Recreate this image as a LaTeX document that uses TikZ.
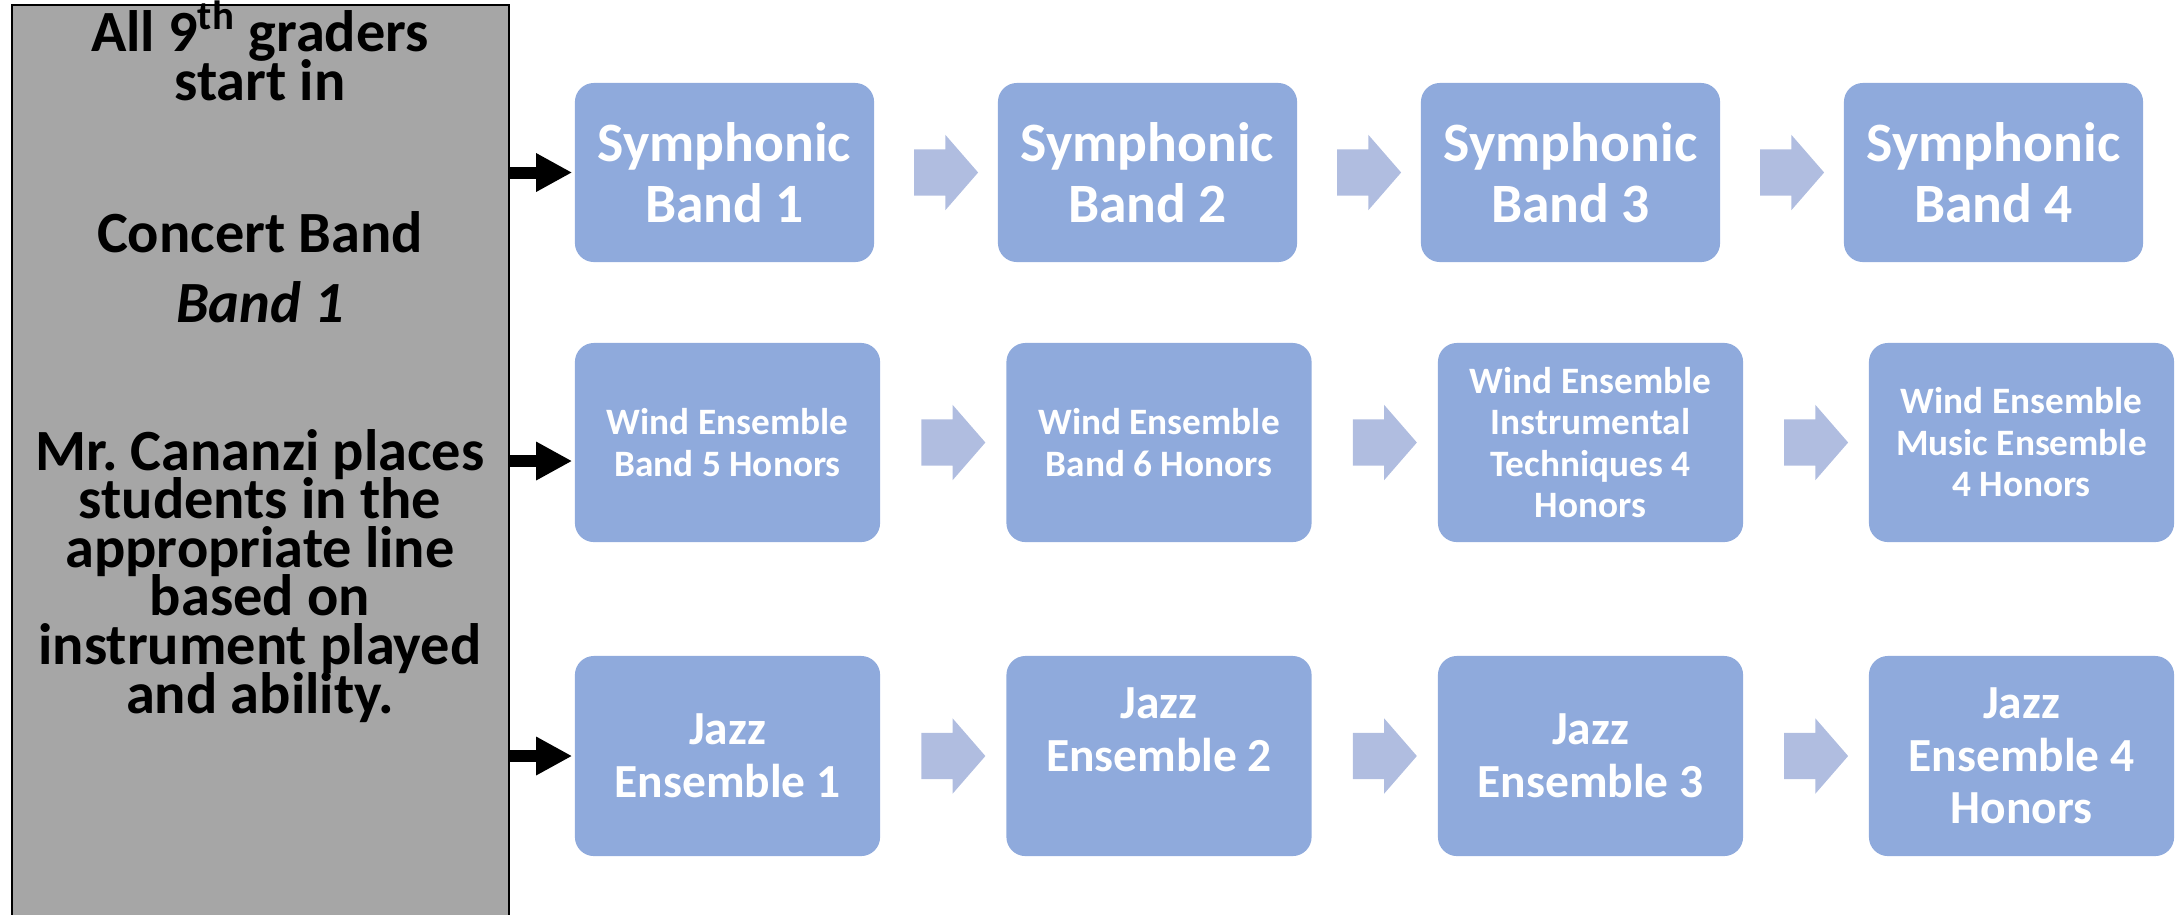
\documentclass[tikz,border=0pt]{standalone}
\usepackage{fontspec}
\setmainfont{Carlito}
\usetikzlibrary{arrows.meta, positioning, calc, shapes.arrows}
\definecolor{startcolor}{RGB}{166,166,166}
\definecolor{coursecolor}{RGB}{143,170,220}
\definecolor{stepcolor}{RGB}{176,189,224}

\begin{document}
\begin{tikzpicture}[
    x=0.01cm, y=-0.01cm,
    startbox/.style={draw=black, line width=0.6pt, fill=startcolor, minimum width=4.96cm, minimum height=9.2cm, inner sep=0pt},
    starttext/.style={anchor=base, align=center, inner sep=0pt, font={\bfseries\fontsize{16.6}{13.8}\selectfont\lineskiplimit-100pt\frenchspacing}},
    course/.style={fill=coursecolor, text=white, rounded corners=1.9mm, align=center, inner sep=0pt},
    symph/.style={course, minimum width=2.99cm, minimum height=1.79cm, font=\bfseries\fontsize{15.8}{17.4}\selectfont},
    wind/.style={course, minimum width=3.05cm, minimum height=1.99cm, font=\bfseries\fontsize{10.6}{11.8}\selectfont},
    jazz/.style={course, minimum width=3.05cm, minimum height=2cm, font=\bfseries\fontsize{13.5}{15}\selectfont},
    stepbox/.style={single arrow, fill=stepcolor, draw=none, inner xsep=0pt, inner ysep=2.25mm, minimum height=0.64cm, single arrow head extend=1.45mm, single arrow tip angle=98},
    feed/.style={-{Triangle[length=3.6mm, width=3.6mm]}, line width=1.2mm}
]
    \useasboundingbox (0,0) rectangle (2176,914);

    % Starting box (multi-line texts sit on their last baseline)
    \node[startbox] (start) at (260.5,465) {};
    \node[starttext] (intro) at (260,100) {All 9\textsuperscript{th} graders\\start in};
    \node[starttext] (concert) at (260,252) {Concert Band};
    \node[starttext, font=\bfseries\itshape\fontsize{16.6}{13.8}\selectfont] (bandone) at (260,322) {Band 1};
    \node[starttext] (placement) at (260,713) {Mr.\ Cananzi places\\students in the\\appropriate line\\based on\\instrument played\\and ability.};

    % Symphonic line
    \node[symph] (sym1) at (724.5,172.5) {Symphonic\\Band 1};
    \node[symph] (sym2) at (1147.5,172.5) {Symphonic\\Band 2};
    \node[symph] (sym3) at (1570.5,172.5) {Symphonic\\Band 3};
    \node[symph] (sym4) at (1993.5,172.5) {Symphonic\\Band 4};

    % Wind ensemble line
    \node[wind] (wind1) at (727.5,442.5) {Wind Ensemble\\Band 5 Honors};
    \node[wind] (wind2) at (1159,442.5) {Wind Ensemble\\Band 6 Honors};
    \node[wind] (wind3) at (1590.5,442.5) {Wind Ensemble\\Instrumental\\Techniques 4\\Honors};
    \node[wind] (wind4) at (2021.5,442.5) {Wind Ensemble\\Music Ensemble\\4 Honors};

    % Jazz line
    \node[jazz] (jazz1) at (727.5,756) {Jazz\\Ensemble 1};
    \node[jazz] (jazz2) at (1159,756) {Jazz\\Ensemble 2\\\mbox{}};
    \node[jazz] (jazz3) at (1590.5,756) {Jazz\\Ensemble 3};
    \node[jazz] (jazz4) at (2021.5,756) {Jazz\\Ensemble 4\\Honors};

    % Steps between years
    \node[stepbox] (s12) at ($(sym1.east)!0.5!(sym2.west)$) {};
    \node[stepbox] (s23) at ($(sym2.east)!0.5!(sym3.west)$) {};
    \node[stepbox] (s34) at ($(sym3.east)!0.5!(sym4.west)$) {};
    \node[stepbox] (w12) at ($(wind1.east)!0.5!(wind2.west)$) {};
    \node[stepbox] (w23) at ($(wind2.east)!0.5!(wind3.west)$) {};
    \node[stepbox] (w34) at ($(wind3.east)!0.5!(wind4.west)$) {};
    \node[stepbox] (j12) at ($(jazz1.east)!0.5!(jazz2.west)$) {};
    \node[stepbox] (j23) at ($(jazz2.east)!0.5!(jazz3.west)$) {};
    \node[stepbox] (j34) at ($(jazz3.east)!0.5!(jazz4.west)$) {};

    % Arrows from the start box
    \coordinate (windin) at ([yshift=-1.85mm]wind1.west);
    \draw[feed] (start.east |- sym1.west) -- ([xshift=-0.2mm]sym1.west);
    \draw[feed] (start.east |- windin) -- ([xshift=-0.2mm]windin);
    \draw[feed] (start.east |- jazz1.west) -- ([xshift=-0.2mm]jazz1.west);
\end{tikzpicture}
\end{document}
